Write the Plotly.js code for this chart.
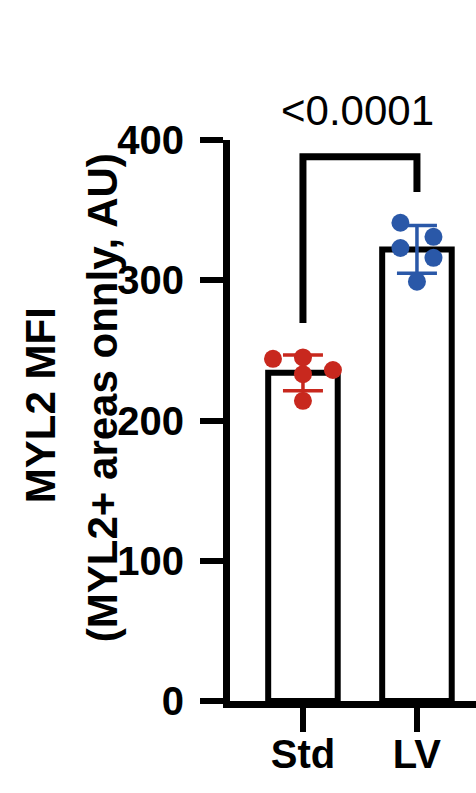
<!DOCTYPE html>
<html>
<head>
<meta charset="utf-8">
<script src="https://cdn.plot.ly/plotly-3.0.1.min.js"></script>
<style>html,body{margin:0;padding:0;background:#fff;}#chart{width:476px;height:793px;}</style>
</head>
<body>
<div id="chart"></div>
<script>
// ---- data ----
const categories = ['Std', 'LV'];
const stdValues = [244, 245, 233, 236, 214];
const lvValues = [341, 331, 323, 316, 299];
const means = [234, 322];
const sds = [12.7, 17];
const yTickVals = [0, 100, 200, 300, 400];
const yTickText = ['0', '100', '200', '300', '400'];
const pLabel = '<0.0001';
const titleLine1 = 'MYL2 MFI';
const titleLine2 = '(MYL2+ areas onnly, AU)';

// ---- styling ----
const RED = '#C8281E', BLUE = '#2A58A8';
const FONT = 'Liberation Sans, Arial, sans-serif';
const stdJitter = [-0.263, 0, 0, 0.263, 0];
const lvJitter = [-0.145, 0.145, -0.145, 0.145, 0];
const xIdx = categories.map((c, i) => i);

const traces = [
  {
    type: 'bar', x: xIdx, y: means, width: 0.61,
    marker: {color: '#ffffff', line: {color: '#000', width: 6}},
    hoverinfo: 'skip', cliponaxis: false
  }
];
[[0, stdValues, stdJitter, RED], [1, lvValues, lvJitter, BLUE]].forEach(([i, vals, jit, col]) => {
  traces.push({
    type: 'scatter', mode: 'lines', x: [i], y: [means[i]],
    line: {width: 0}, cliponaxis: false,
    error_y: {type: 'data', array: [sds[i]], visible: true, color: col, thickness: 3.5, width: 20}
  });
  traces.push({
    type: 'scatter', mode: 'markers', x: vals.map((v, k) => i + jit[k]), y: vals,
    marker: {color: col, size: 18}, cliponaxis: false
  });
});

const layout = {
  width: 476, height: 793,
  margin: {l: 230, r: 0, t: 140, b: 92},
  showlegend: false,
  paper_bgcolor: '#fff', plot_bgcolor: '#fff',
  xaxis: {
    range: [-0.64, 1.518], tickvals: xIdx, ticktext: categories,
    showgrid: false, zeroline: false, showline: true, linecolor: '#000', linewidth: 7,
    ticks: 'outside', ticklen: 24, tickwidth: 6, tickcolor: '#000',
    ticklabelstandoff: -12,
    tickfont: {family: FONT, size: 40, color: '#000', weight: 'bold'},
    fixedrange: true
  },
  yaxis: {
    range: [0, 400], tickvals: yTickVals, ticktext: yTickText,
    showgrid: false, zeroline: false, showline: true, linecolor: '#000', linewidth: 7,
    ticks: 'outside', ticklen: 23, tickwidth: 6, tickcolor: '#000',
    ticklabelstandoff: 8,
    tickfont: {family: FONT, size: 40, color: '#000', weight: 'bold'},
    fixedrange: true
  },
  shapes: [
    {type: 'path', xref: 'x', yref: 'y', path: 'M 0,269.5 L 0,388 L 1,388 L 1,363',
     line: {color: '#000', width: 7}}
  ],
  annotations: [
    {xref: 'x', yref: 'paper', x: 0.48, y: 1.053, text: pLabel, showarrow: false,
     xanchor: 'center', yanchor: 'middle',
     font: {family: FONT, size: 42, color: '#000'}},
    {xref: 'paper', yref: 'y', x: -0.772, y: 211, text: titleLine1, showarrow: false,
     textangle: -90, xanchor: 'center', yanchor: 'middle',
     font: {family: FONT, size: 42, color: '#000', weight: 'bold'}},
    {xref: 'paper', yref: 'y', x: -0.52, y: 216, text: titleLine2, showarrow: false,
     textangle: -90, xanchor: 'center', yanchor: 'middle',
     font: {family: FONT, size: 42, color: '#000', weight: 'bold'}}
  ]
};

Plotly.newPlot('chart', traces, layout, {displayModeBar: false, staticPlot: true});
</script>
</body>
</html>
